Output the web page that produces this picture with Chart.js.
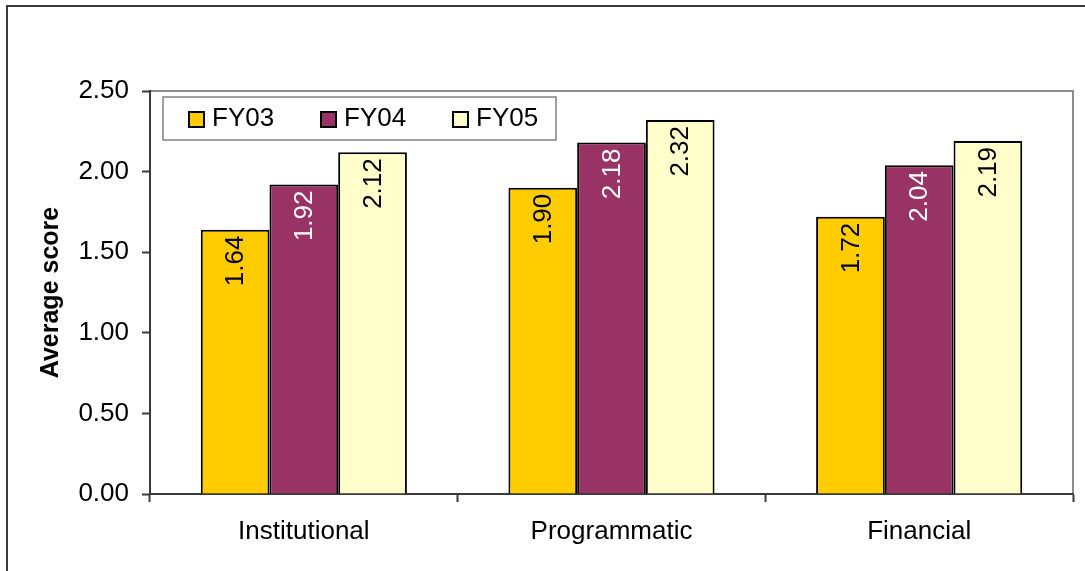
<!DOCTYPE html>
<html>
<head>
<meta charset="utf-8">
<script src="https://cdn.jsdelivr.net/npm/chart.js@4/dist/chart.umd.min.js"></script>
<style>
  html, body { margin: 0; padding: 0; background: #fff; }
  #wrap { width: 1085px; height: 571px; position: relative; }
</style>
</head>
<body>
<div id="wrap"><canvas id="scores"></canvas></div>
<script>
const categories = ['Institutional', 'Programmatic', 'Financial'];
const years = ['FY03', 'FY04', 'FY05'];
const fy03 = [1.64, 1.90, 1.72];
const fy04 = [1.92, 2.18, 2.04];
const fy05 = [2.12, 2.32, 2.19];
const yTicks = [0, 0.5, 1, 1.5, 2, 2.5];

const barColors = ['#FFCC00', '#993366', '#FFFFCC'];
const labelColors = ['#000000', '#FFFFFF', '#000000'];
const FONT = 'Arial, "Liberation Sans", sans-serif';

// outer frame + gray top/right edges of the plot area
const framePlugin = {
  id: 'frame',
  beforeDraw(chart) {
    const ctx = chart.ctx;
    const a = chart.chartArea;
    ctx.save();
    ctx.fillStyle = '#fff';
    ctx.fillRect(0, 0, chart.width, chart.height);
    ctx.strokeStyle = '#3a3a3a';
    ctx.lineWidth = 2;
    ctx.beginPath();
    ctx.moveTo(7, chart.height);
    ctx.lineTo(7, 6);
    ctx.lineTo(chart.width, 6);
    ctx.stroke();
    ctx.strokeStyle = '#8c8c8c';
    ctx.lineWidth = 2;
    ctx.beginPath();
    ctx.moveTo(a.left, a.top);
    ctx.lineTo(a.right, a.top);
    ctx.lineTo(a.right, a.bottom);
    ctx.stroke();
    ctx.restore();
  }
};

// rotated value labels inside the top of each bar
const valueLabels = {
  id: 'valueLabels',
  afterDatasetsDraw(chart) {
    const ctx = chart.ctx;
    ctx.save();
    ctx.font = '26px ' + FONT;
    ctx.textAlign = 'right';
    ctx.textBaseline = 'middle';
    chart.data.datasets.forEach((ds, i) => {
      chart.getDatasetMeta(i).data.forEach((bar, j) => {
        ctx.save();
        ctx.translate(bar.x + 1, bar.y + 6);
        ctx.rotate(-Math.PI / 2);
        ctx.fillStyle = labelColors[i];
        ctx.fillText(ds.data[j].toFixed(2), 0, 0);
        ctx.restore();
      });
    });
    ctx.restore();
  }
};

// boxed legend sitting inside the plot area
const boxLegend = {
  id: 'boxLegend',
  afterDraw(chart) {
    const ctx = chart.ctx;
    const a = chart.chartArea;
    const bx = a.left + 13, by = a.top + 6, bw = 393, bh = 43;
    ctx.save();
    ctx.fillStyle = '#fff';
    ctx.fillRect(bx, by, bw, bh);
    ctx.strokeStyle = '#808080';
    ctx.lineWidth = 1.5;
    ctx.strokeRect(bx, by, bw, bh);
    ctx.font = '26px ' + FONT;
    ctx.textAlign = 'left';
    ctx.textBaseline = 'alphabetic';
    chart.data.datasets.forEach((ds, i) => {
      const sx = bx + 26 + i * 132;
      ctx.fillStyle = ds.backgroundColor;
      ctx.fillRect(sx, by + 15, 15, 15);
      ctx.strokeStyle = '#000';
      ctx.lineWidth = 2;
      ctx.strokeRect(sx, by + 15, 15, 15);
      ctx.fillStyle = '#000';
      ctx.fillText(ds.label, sx + 23, by + 29);
    });
    ctx.restore();
  }
};

new Chart(document.getElementById('scores'), {
  type: 'bar',
  data: {
    labels: categories,
    datasets: [fy03, fy04, fy05].map((d, i) => ({
      label: years[i],
      data: d,
      backgroundColor: barColors[i],
      borderColor: '#000',
      borderWidth: 2,
      categoryPercentage: 0.67,
      barPercentage: 1.0
    }))
  },
  options: {
    responsive: true,
    maintainAspectRatio: false,
    animation: false,
    layout: { padding: { top: 91, right: 12, left: 0, bottom: 0 } },
    plugins: {
      legend: { display: false },
      tooltip: { enabled: false }
    },
    scales: {
      x: {
        grid: {
          offset: true,
          drawOnChartArea: false,
          tickLength: 8,
          tickColor: '#3a3a3a',
          tickWidth: 2
        },
        border: { color: '#3a3a3a', width: 2 },
        ticks: { color: '#000', font: { family: FONT, size: 26 }, padding: 14 },
        afterFit(scale) { scale.height = 77; }
      },
      y: {
        min: 0,
        max: 2.5,
        afterBuildTicks(scale) { scale.ticks = yTicks.map(v => ({ value: v })); },
        grid: {
          drawOnChartArea: false,
          tickLength: 8,
          tickColor: '#3a3a3a',
          tickWidth: 2
        },
        border: { color: '#3a3a3a', width: 2 },
        ticks: {
          color: '#000',
          font: { family: FONT, size: 26 },
          padding: 13,
          callback: v => Number(v).toFixed(2)
        },
        title: {
          display: true,
          text: 'Average score',
          color: '#000',
          font: { family: FONT, size: 25, weight: 'bold' },
          padding: { top: 36, bottom: 0 }
        },
        afterFit(scale) { scale.width = 150; }
      }
    }
  },
  plugins: [framePlugin, valueLabels, boxLegend]
});
</script>
</body>
</html>
